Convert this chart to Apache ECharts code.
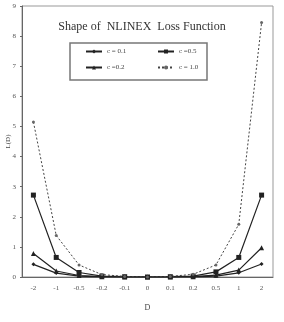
<!DOCTYPE html>
<html><head><meta charset="utf-8">
<script src="https://cdn.jsdelivr.net/npm/echarts@6/dist/echarts.min.js"></script>
<style>html,body{margin:0;padding:0;background:#fff}#c{width:284px;height:322px}</style>
</head><body><div id="c"></div>
<script>
var categories = ['-2','-1','-0.5','-0.2','-0.1','0','0.1','0.2','0.5','1','2'];
var seriesNames = ['c = 0.1','c =0.5','c =0.2','c = 1.0'];
var c01 = [0.42, 0.13, 0.03, 0.005, 0.001, 0, 0.001, 0.005, 0.03, 0.14, 0.43];
var c05 = [2.72, 0.65, 0.15, 0.03, 0.01, 0, 0.01, 0.03, 0.17, 0.65, 2.72];
var c02 = [0.78, 0.2, 0.05, 0.01, 0.002, 0, 0.002, 0.01, 0.06, 0.23, 0.97];
var c10 = [5.15, 1.38, 0.4, 0.08, 0.02, 0, 0.02, 0.09, 0.4, 1.75, 8.45];
var yTicks = [0,1,2,3,4,5,6,7,8,9];

var F = 'Liberation Serif';
var chart = echarts.init(document.getElementById('c'));
function leg(name, left, top){
  return {data:[name], left:left, top:top, itemWidth:16, itemHeight:5, itemGap:0,
    padding:0, textStyle:{fontFamily:F, fontSize:7, color:'#444'}, selectedMode:false};
}
chart.setOption({
  animation:false,
  title:{text:'Shape of  NLINEX  Loss Function', left:'center', top:16,
    textStyle:{fontFamily:F, fontSize:12, fontWeight:'normal', color:'#333'}},
  grid:{left:22, right:11, top:6, bottom:45, show:true, borderColor:'#999', borderWidth:1,
    containLabel:false, outerBoundsMode:'none'},
  legend:[leg(seriesNames[0],85,48), leg(seriesNames[1],157,48), leg(seriesNames[2],85,64), leg(seriesNames[3],157,64)],
  graphic:[{type:'rect', shape:{x:70, y:43, width:137, height:37},
    style:{fill:'none', stroke:'#777', lineWidth:1.5}, z:100}],
  xAxis:{type:'category', data:categories, boundaryGap:true, name:'D', nameLocation:'middle', nameGap:27,
    nameTextStyle:{fontFamily:F, fontSize:8, color:'#444'},
    axisLine:{lineStyle:{color:'#666'}}, axisTick:{length:3, lineStyle:{color:'#666'}},
    axisLabel:{fontFamily:F, fontSize:7, color:'#555', margin:8, interval:0}},
  yAxis:{type:'value', min:yTicks[0], max:yTicks[yTicks.length-1], interval:1, name:'L(D)', nameLocation:'middle', nameGap:10,
    nameMoveOverlap:false,
    nameTextStyle:{fontFamily:F, fontSize:7, color:'#444'},
    axisLine:{show:true, lineStyle:{color:'#666'}}, axisTick:{show:true, length:2, lineStyle:{color:'#666'}},
    splitLine:{show:false},
    axisLabel:{fontFamily:F, fontSize:7, color:'#555', margin:6}},
  series:[
    {name:seriesNames[0], type:'line', data:c01, symbol:'diamond', symbolSize:4,
      itemStyle:{color:'#222'}, lineStyle:{color:'#222', width:1.2}},
    {name:seriesNames[1], type:'line', data:c05, symbol:'rect', symbolSize:5,
      itemStyle:{color:'#222'}, lineStyle:{color:'#222', width:1.2}},
    {name:seriesNames[2], type:'line', data:c02, symbol:'triangle', symbolSize:5,
      itemStyle:{color:'#222'}, lineStyle:{color:'#222', width:1.2}},
    {name:seriesNames[3], type:'line', data:c10, symbol:'circle', symbolSize:3,
      itemStyle:{color:'#666'}, lineStyle:{color:'#444', width:1, type:[2,2]}}
  ]
});
</script></body></html>
